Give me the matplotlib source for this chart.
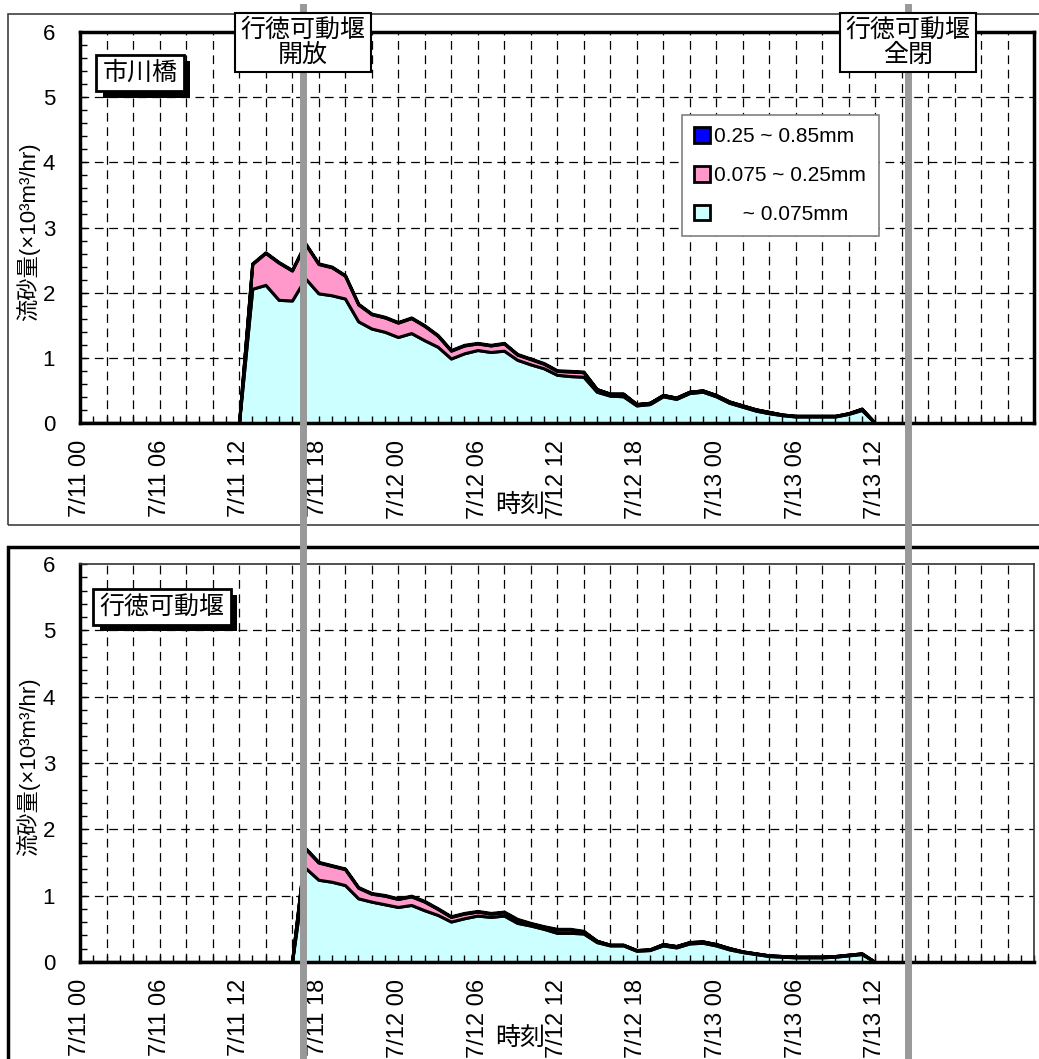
import matplotlib
matplotlib.use("Agg")
import matplotlib.pyplot as plt
from matplotlib.lines import Line2D
from matplotlib.patches import Rectangle, Patch
import matplotlib.transforms as mtransforms
import matplotlib.patheffects as pe

plt.rcParams['font.family'] = ['Liberation Sans', 'Noto Sans CJK JP', 'DejaVu Sans']

# ---------------- data ----------------
hours = list(range(0, 61))  # hours since 7/11 00:00
tick_hours = [0, 6, 12, 18, 24, 30, 36, 42, 48, 54, 60]
tick_labels = ["7/11 00", "7/11 06", "7/11 12", "7/11 18", "7/12 00", "7/12 06",
               "7/12 12", "7/12 18", "7/13 00", "7/13 06", "7/13 12"]
gate_open_hour = 16.8
gate_close_hour = 62.5
series_labels = ["0.25 ~ 0.85mm", "0.075 ~ 0.25mm", "     ~ 0.075mm"]

# 市川橋
ichikawa_fine = [0.0] * 13 + [
    2.06, 2.12, 1.89, 1.88, 2.22, 1.99, 1.96, 1.91, 1.56, 1.45,
    1.40, 1.32, 1.38, 1.27, 1.17, 0.99, 1.07, 1.12, 1.09, 1.11,
    0.97, 0.90, 0.84, 0.74, 0.72, 0.71, 0.48, 0.42, 0.41, 0.27,
    0.29, 0.41, 0.37, 0.46, 0.48, 0.41, 0.31, 0.25, 0.19, 0.15,
    0.12, 0.10, 0.10, 0.10, 0.10, 0.14, 0.20, 0.0]
ichikawa_medium = [0.0] * 13 + [
    0.38, 0.49, 0.57, 0.46, 0.53, 0.45, 0.43, 0.35, 0.26, 0.22,
    0.22, 0.22, 0.23, 0.22, 0.17, 0.12, 0.12, 0.10, 0.10, 0.11,
    0.08, 0.08, 0.07, 0.06, 0.07, 0.07, 0.04, 0.03, 0.04, 0.02,
    0.02, 0.02, 0.02, 0.02, 0.02, 0.02, 0.02, 0.02, 0.02, 0.02,
    0.01, 0.01, 0.01, 0.01, 0.01, 0.01, 0.02, 0.0]
ichikawa_coarse = [0.0] * 13 + [
    0.01, 0.01, 0.01, 0.01, 0.01, 0.01, 0.01, 0.01, 0.01, 0.01,
    0.01, 0.01, 0.01, 0.01, 0.01, 0.01, 0.01, 0.01, 0.01, 0.01,
    0.01, 0.01, 0.01, 0.01, 0.01, 0.01, 0.0, 0.0, 0.0, 0.0,
    0.0, 0.0, 0.0, 0.0, 0.0, 0.0, 0.0, 0.0, 0.0, 0.0,
    0.0, 0.0, 0.0, 0.0, 0.0, 0.0, 0.0, 0.0]

# 行徳可動堰
gyotoku_fine = [0.0] * 17 + [
    1.42, 1.24, 1.21, 1.16, 0.96, 0.91, 0.87, 0.83, 0.86, 0.78,
    0.71, 0.61, 0.66, 0.70, 0.68, 0.70, 0.59, 0.55, 0.50, 0.44,
    0.44, 0.43, 0.30, 0.25, 0.25, 0.17, 0.18, 0.25, 0.22, 0.28,
    0.29, 0.25, 0.19, 0.15, 0.12, 0.09, 0.08, 0.07, 0.07, 0.07,
    0.08, 0.10, 0.12, 0.0]
gyotoku_medium = [0.0] * 17 + [
    0.29, 0.26, 0.24, 0.24, 0.16, 0.12, 0.13, 0.12, 0.13, 0.13,
    0.09, 0.07, 0.07, 0.06, 0.05, 0.05, 0.05, 0.03, 0.03, 0.05,
    0.05, 0.03, 0.02, 0.01, 0.01, 0.01, 0.01, 0.02, 0.02, 0.02,
    0.02, 0.02, 0.02, 0.01, 0.01, 0.01, 0.01, 0.01, 0.01, 0.01,
    0.01, 0.01, 0.01, 0.0]
gyotoku_coarse = [0.0] * 17 + [
    0.01, 0.01, 0.01, 0.01, 0.01, 0.01, 0.01, 0.01, 0.01, 0.01,
    0.01, 0.01, 0.01, 0.01, 0.01, 0.01, 0.01, 0.01, 0.01, 0.01,
    0.01, 0.01, 0.0, 0.0, 0.0, 0.0, 0.0, 0.0, 0.0, 0.0,
    0.0, 0.0, 0.0, 0.0, 0.0, 0.0, 0.0, 0.0, 0.0, 0.0,
    0.0, 0.0, 0.0, 0.0]

# ---------------- style ----------------
C_FINE = '#CCFFFF'
C_MED = '#FF99CC'
C_COARSE = '#0000FF'
W, H = 1039, 1059

fig = plt.figure(figsize=(W / 100, H / 100), dpi=100)
fig.patch.set_facecolor('white')

ax_top = fig.add_axes([80 / W, 1 - 423 / H, 954 / W, 391 / H])
ax_bot = fig.add_axes([80 / W, 1 - 962 / H, 954 / W, 398 / H])


def style_axes(ax, fine, medium, coarse, thin_top_right=False):
    ax.set_xlim(0, 72)
    ax.set_ylim(0, 6)
    for h in range(2, 72, 2):
        ax.axvline(h, color='k', lw=0.9, ls=(0, (7, 4.5)), zorder=0.8)
    for v in range(1, 6):
        ax.axhline(v, color='k', lw=0.9, ls=(0, (7, 4.5)), zorder=0.8)
    ax.stackplot(hours, fine, medium, coarse,
                 colors=[C_FINE, C_MED, C_COARSE],
                 edgecolor='k', linewidth=2.2, zorder=1)
    ax.set_xticks(tick_hours)
    ax.set_xticklabels(tick_labels, rotation=90, fontsize=17)
    ax.set_xticks(range(0, 73), minor=True)
    ax.set_yticks(range(0, 7))
    ax.set_yticklabels([str(v) for v in range(0, 7)], fontsize=16)
    ax.set_yticks([i * 0.2 for i in range(31)], minor=True)
    ax.tick_params(axis='x', which='both', direction='in', length=5,
                   width=1, pad=12)
    ax.tick_params(axis='y', which='both', direction='in', length=5,
                   width=1, pad=18)
    for s in ax.spines.values():
        s.set_linewidth(2.5)
        s.set_color('k')
    if thin_top_right:
        ax.spines['top'].set_linewidth(1.2)
        ax.spines['right'].set_linewidth(1.2)
        ax.spines['top'].set_color('#333333')
        ax.spines['right'].set_color('#333333')


style_axes(ax_top, ichikawa_fine, ichikawa_medium, ichikawa_coarse)
style_axes(ax_bot, gyotoku_fine, gyotoku_medium, gyotoku_coarse,
           thin_top_right=True)

# labels
for ax, ylab_y, xlab_y in [(ax_top, 0.49, -0.21), (ax_bot, 0.49, -0.19)]:
    ax.text(-0.0545, ylab_y, '流砂量(×10³m³/hr)', rotation=90, ha='center',
            va='center', transform=ax.transAxes, fontsize=16)
    ax.text(0.461, xlab_y, '時刻', ha='center', va='center',
            transform=ax.transAxes, fontsize=18)


def boxed_label(ax, x, y, text):
    t = ax.text(x, y, text, transform=ax.transAxes, fontsize=18, color='k',
                ha='center', va='center',
                bbox=dict(boxstyle='square,pad=0.25', fc='white', ec='k', lw=2),
                zorder=6)
    t.get_bbox_patch().set_path_effects(
        [pe.SimplePatchShadow(offset=(4.5, -4.5), shadow_rgbFace='k', alpha=1),
         pe.Normal()])


boxed_label(ax_top, 0.063, 0.895, '市川橋')
boxed_label(ax_bot, 0.086, 0.892, '行徳可動堰')

# legend
handles = [Patch(facecolor=C_COARSE, edgecolor='k', lw=2),
           Patch(facecolor=C_MED, edgecolor='k', lw=2),
           Patch(facecolor=C_FINE, edgecolor='k', lw=2)]
leg = ax_top.legend(handles, series_labels, loc='upper left',
                    bbox_to_anchor=(0.631, 0.788), fontsize=15,
                    frameon=True, fancybox=False, framealpha=1,
                    edgecolor='#808080', handlelength=0.75,
                    handleheight=0.75, handletextpad=0.2,
                    labelspacing=0.95, borderpad=0.6, borderaxespad=0)
leg.get_frame().set_linewidth(1.2)
leg.set_zorder(7)

# outer frames
fig.add_artist(Rectangle((8 / W, 1 - 525 / H), 1.2, (525 - 14) / H,
                         transform=fig.transFigure, fill=False,
                         ec='#404040', lw=1.2, zorder=1))
fig.add_artist(Rectangle((8 / W, -0.2), 1.2, (1 - 547 / H) + 0.2,
                         transform=fig.transFigure, fill=False,
                         ec='k', lw=2.5, zorder=1))

# gate event lines spanning both panels
blend = mtransforms.blended_transform_factory(ax_top.transData, fig.transFigure)
for h in (gate_open_hour, gate_close_hour):
    fig.add_artist(Line2D([h, h], [0, 1 - 7 / H], transform=blend,
                          color='#999999', lw=5, zorder=2.5))

for h, txt in [(gate_open_hour, '行徳可動堰\n開放'), (gate_close_hour, '行徳可動堰\n全閉')]:
    fig.text(h, 1 - 42.5 / H, txt, transform=blend, ha='center', va='center',
             multialignment='center', fontsize=18, linespacing=1.05,
             bbox=dict(boxstyle='square,pad=0.22', fc='white', ec='k', lw=1.5),
             zorder=4)

fig.savefig('out.png', dpi=100)
